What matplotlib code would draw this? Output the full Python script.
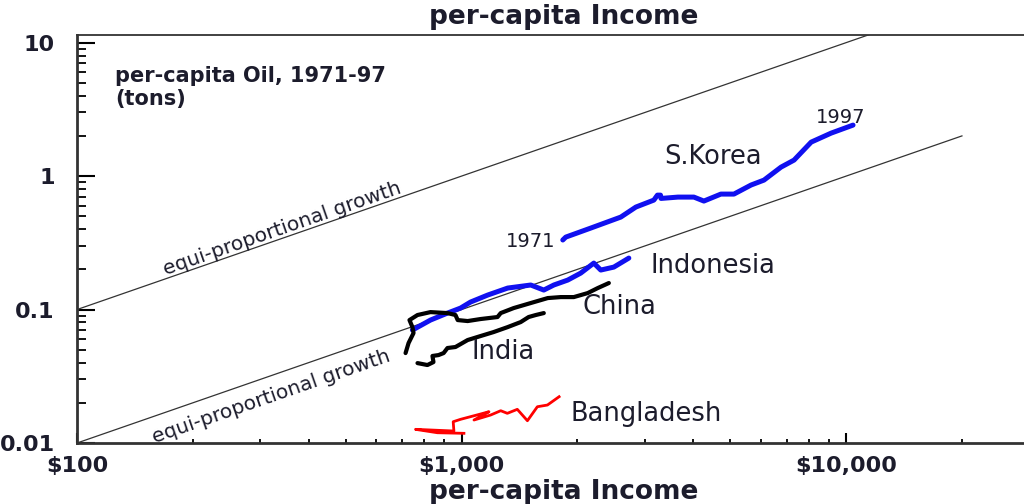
import matplotlib
matplotlib.use("Agg")
import matplotlib.pyplot as plt
import matplotlib.ticker as mticker
import numpy as np

plt.rcParams["font.family"] = ["DejaVu Sans"]

# per-capita income ($) and per-capita oil (tons), 1971-97
korea_income = [1833, 1866, 2168, 2594, 2839, 3162, 3230, 3290, 3300, 3652, 4018,
                4266, 4723, 5107, 5658, 6113, 6770, 7320, 8110, 9140, 10420]
korea_oil = [0.332, 0.349, 0.408, 0.493, 0.586, 0.661, 0.72, 0.72, 0.68, 0.696, 0.696,
             0.650, 0.733, 0.733, 0.857, 0.933, 1.167, 1.318, 1.797, 2.099, 2.41]

indonesia_income = [745, 830, 919, 994, 1055, 1169, 1318, 1513, 1636, 1737,
                    1888, 2041, 2207, 2301, 2488, 2722]
indonesia_oil = [0.0702, 0.0834, 0.0941, 0.1026, 0.1138, 0.1284, 0.1449, 0.1527,
                 0.140, 0.1527, 0.1663, 0.1876, 0.2229, 0.1977, 0.208, 0.243]

china_income = [715, 728, 750, 745, 732, 768, 830, 919, 964, 977, 1037, 1120,
                1240, 1264, 1366, 1513, 1675, 1811, 1958, 2128, 2260, 2415]
china_oil = [0.0472, 0.0561, 0.0667, 0.0739, 0.0834, 0.0910, 0.0957, 0.0941,
             0.0910, 0.0834, 0.0820, 0.0849, 0.0879, 0.0941, 0.1026, 0.1119,
             0.1219, 0.1240, 0.1240, 0.1329, 0.1449, 0.158]

india_income = [768, 815, 845, 840, 871, 898, 919, 964, 1037, 1120, 1211, 1318,
                1425, 1494, 1559, 1636]
india_oil = [0.0397, 0.0384, 0.0404, 0.0449, 0.0456, 0.0472, 0.0515, 0.0524,
             0.0591, 0.0633, 0.0678, 0.0739, 0.0806, 0.0879, 0.0910, 0.0941]

bangladesh_income = [1014, 865, 759, 955, 951, 994, 1120, 1178, 1077, 1190, 1264,
                     1315, 1396, 1483, 1574, 1672, 1793]
bangladesh_oil = [0.01182, 0.01194, 0.01266, 0.01230, 0.01444, 0.01505, 0.01649,
                  0.01716, 0.01487, 0.01621, 0.01746, 0.01669, 0.01788, 0.01469,
                  0.01870, 0.01926, 0.02223]

# equi-proportional growth reference lines: oil = income / k
equi_upper_income = [100, 30000]
equi_upper_k = 1000
equi_lower_income = [100, 20000]
equi_lower_k = 10000

x_ticks = [100, 1000, 10000]
x_ticklabels = ["$100", "$1,000", "$10,000"]
y_ticks = [0.01, 0.1, 1, 10]
y_ticklabels = ["0.01", "0.1", "1", "10"]

fig = plt.figure(figsize=(10.24, 5.04), dpi=100)
ax = fig.add_axes([0.0752, 0.121, 0.9248, 0.8095])
ax.set_xscale("log")
ax.set_yscale("log")
ax.set_xlim(100, 29000)
ax.set_ylim(0.01, 11.4)

eu = np.array(equi_upper_income, dtype=float)
el = np.array(equi_lower_income, dtype=float)
ax.plot(eu, eu / equi_upper_k, color="#333333", lw=0.9)
ax.plot(el, el / equi_lower_k, color="#333333", lw=0.9)

ax.plot(korea_income, korea_oil, color="#1010f0", lw=3.6, solid_capstyle="round")
ax.plot(indonesia_income, indonesia_oil, color="#1010f0", lw=3.6, solid_capstyle="round")
ax.plot(china_income, china_oil, color="black", lw=3.0, solid_capstyle="round")
ax.plot(india_income, india_oil, color="black", lw=3.0, solid_capstyle="round")
ax.plot(bangladesh_income, bangladesh_oil, color="#ff0000", lw=2.0)

txt = "#1c1c2c"
lab = dict(fontsize=18.5, color=txt, va="center", ha="left")
ax.text(3357, 1.388, "S.Korea", **lab)
ax.text(3105, 0.212, "Indonesia", **lab)
ax.text(2065, 0.1044, "China", **lab)
ax.text(1061, 0.0481, "India", **lab)
ax.text(1923, 0.0165, "Bangladesh", **lab)
ax.text(1758, 0.326, "1971", fontsize=14, color=txt, va="center", ha="right")
ax.text(8350, 2.77, "1997", fontsize=14, color=txt, va="center", ha="left")

ang = 19.2
ax.text(342, 0.401, "equi-proportional growth", fontsize=14.5, color=txt,
        rotation=ang, ha="center", va="center")
ax.text(320, 0.0221, "equi-proportional growth", fontsize=14.5, color=txt,
        rotation=ang, ha="center", va="center")

ax.text(0.040, 0.9236, "per-capita Oil, 1971-97\n(tons)", transform=ax.transAxes,
        fontsize=15, fontweight="bold", color=txt, va="top", ha="left",
        linespacing=1.2)

ax.set_xticks(x_ticks)
ax.set_xticklabels(x_ticklabels)
ax.set_yticks(y_ticks)
ax.set_yticklabels(y_ticklabels)
ax.xaxis.set_minor_formatter(mticker.NullFormatter())
ax.yaxis.set_minor_formatter(mticker.NullFormatter())

for lbl in ax.get_xticklabels() + ax.get_yticklabels():
    lbl.set_fontweight("bold")
    lbl.set_color(txt)
    lbl.set_fontsize(16)

ax.tick_params(axis="x", which="major", direction="in", length=7, width=1.5, pad=9)
ax.tick_params(axis="x", which="minor", direction="in", length=3.2, width=1.3)
ax.tick_params(axis="y", which="major", direction="in", length=13, width=1.5, pad=16)
ax.tick_params(axis="y", which="minor", direction="in", length=6.5, width=1.3)

ax.spines["right"].set_visible(False)
ax.spines["left"].set_linewidth(2)
ax.spines["bottom"].set_linewidth(2)
ax.spines["top"].set_linewidth(1.3)
for s in ax.spines.values():
    s.set_color("#333333")

fig.text(0.55, 1 - 499 / 504, "per-capita Income", fontsize=19, fontweight="bold",
         color=txt, ha="center", va="baseline")
fig.text(0.55, 1 - 24 / 504, "per-capita Income", fontsize=19, fontweight="bold",
         color=txt, ha="center", va="baseline")

fig.savefig("out.png", dpi=100)
